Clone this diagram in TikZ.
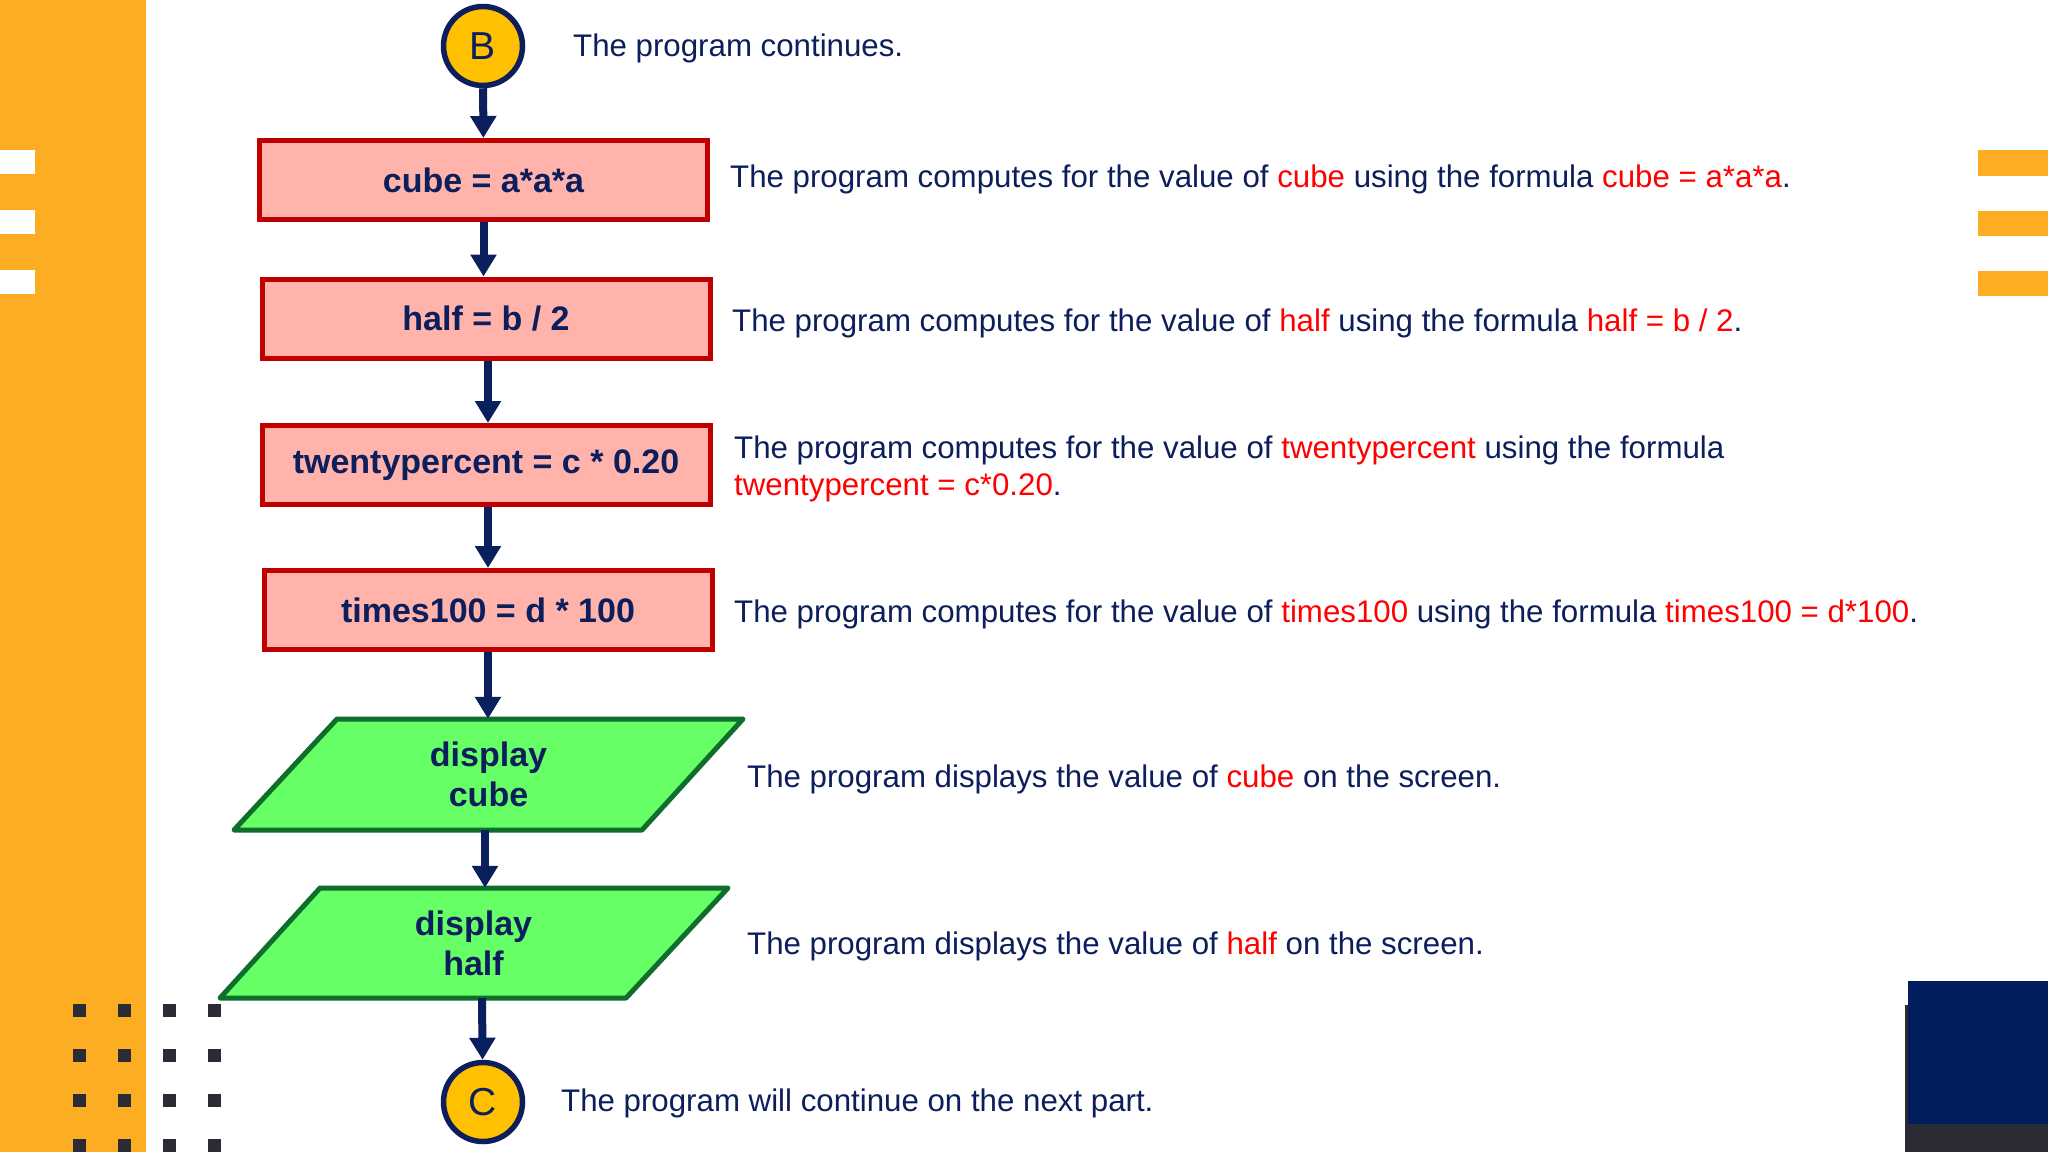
\documentclass[tikz,border=0pt]{standalone}
\usepackage{fontspec}
\setmainfont{Liberation Sans}
\usetikzlibrary{arrows.meta,calc}
\definecolor{orangebar}{HTML}{FCAD22}
\definecolor{navy}{HTML}{0C1E5B}
\definecolor{arrnavy}{HTML}{0A1F5E}
\definecolor{circfill}{HTML}{FFC000}
\definecolor{boxfill}{HTML}{FFB3AB}
\definecolor{boxline}{HTML}{C00000}
\definecolor{greenfill}{HTML}{66FF66}
\definecolor{greenline}{HTML}{0F6E2C}
\definecolor{redtxt}{HTML}{FF0000}
\definecolor{darkgray}{HTML}{2B2B36}
\definecolor{darkblue}{HTML}{031E5E}
\newcommand{\rd}[1]{\textcolor{redtxt}{#1}}
\tikzset{
  procbox/.style={draw=boxline, fill=boxfill, line width=5pt, rectangle,
    minimum width=448pt, minimum height=79pt, inner sep=0pt,
    text=navy, font=\fontsize{34}{40}\selectfont\bfseries},
  conn/.style={draw=navy, fill=circfill, line width=5.5pt, circle,
    minimum size=79pt, inner sep=0pt, text=navy, font=\fontsize{39}{44}\selectfont},
  iotext/.style={minimum width=300pt, inner sep=0pt, align=center,
    text=navy, font=\fontsize{34}{40}\selectfont\bfseries},
  iobox/.style={draw=greenline, fill=greenfill, line width=5pt, line join=round},
  desc/.style={anchor=base west, inner sep=0pt, text=navy, font=\fontsize{31.25}{37}\selectfont, align=left},
  arr/.style={draw=arrnavy, line width=8pt, -{Triangle[length=22pt,width=25pt]}},
  deco/.style={fill=orangebar, draw=none},
  dot/.style={fill=darkgray, draw=none}
}
\begin{document}
\begin{tikzpicture}[x=1pt,y=-1pt]
\useasboundingbox (0,0) rectangle (2048,1152);
\fill[white] (0,0) rectangle (2048,1152);
% left orange bar with white stripes
\fill[deco] (0,0) rectangle (146,1152);
\fill[white] (0,150) rectangle (35,174);
\fill[white] (0,210) rectangle (35,234);
\fill[white] (0,270) rectangle (35,294);
% right orange stripes
\fill[deco] (1978,150) rectangle (2048,176);
\fill[deco] (1978,211) rectangle (2048,236);
\fill[deco] (1978,271) rectangle (2048,296);
% bottom right blocks
\fill[darkgray] (1905,1005) rectangle (2048,1152);
\fill[darkblue] (1908,981) rectangle (2048,1124);
% dot grid
\foreach \i in {0,1,2,3}{
  \foreach \j in {0,1,2,3}{
    \fill[dot] ({73+45*\i},{1004+45*\j}) rectangle ++(13,13);
  }
}
% flowchart
\node[conn] (B) at (483,46) {B};
\node[procbox] (cube) at (483.5,180) {cube = a*a*a};
\node[procbox] (half) at (486,318.5) {half = b / 2};
\node[procbox] (twenty) at (486,465) {twentypercent = c * 0.20};
\node[procbox] (times) at (488,610) {times100 = d * 100};
% display cube
\draw[iobox] (234,830) -- (337,719) -- (743,719) -- (642,830) -- cycle;
\node[iotext, minimum height=111pt] (dc) at (488.5,774.5) {display\\cube};
% display half
\draw[iobox] (220,998) -- (320,888) -- (728,888) -- (626,998) -- cycle;
\node[iotext, minimum height=110pt] (dh) at (473.5,943) {display\\half};
\node[conn] (C) at (483,1102) {C};
% arrows
\draw[arr] (B) -- (cube);
\draw[arr] (cube.south) -- (cube.south |- half.north);
\draw[arr] ([xshift=2pt]half.south) -- ([xshift=2pt]half.south |- twenty.north);
\draw[arr] ([xshift=2pt]twenty.south) -- ([xshift=2pt]twenty.south |- times.north);
\draw[arr] (times.south) -- (times.south |- dc.north);
\draw[arr] ([xshift=-3.5pt]dc.south) -- ([xshift=-3.5pt]dc.south |- dh.north);
\draw[arr] ([xshift=8.5pt]dh.south) -- (C);
% descriptions
\node[desc] (tB) at (573,56) {The program continues.};
\node[desc] (tcube) at (730,187) {The program computes for the value of \rd{cube} using the formula \rd{cube = a*a*a}.};
\node[desc] (thalf) at (732,331) {The program computes for the value of \rd{half} using the formula \rd{half = b / 2}.};
\node[desc] (ttw1) at (734,458) {The program computes for the value of \rd{twentypercent} using the formula};
\node[desc] (ttw2) at (734,495) {\rd{twentypercent = c*0.20}.};
\node[desc] (ttimes) at (734,622) {The program computes for the value of \rd{times100} using the formula \rd{times100 = d*100}.};
\node[desc] (tdc) at (747,787) {The program displays the value of \rd{cube} on the screen.};
\node[desc] (tdh) at (747,954) {The program displays the value of \rd{half} on the screen.};
\node[desc] (tC) at (561,1111) {The program will continue on the next part.};
\end{tikzpicture}
\end{document}
